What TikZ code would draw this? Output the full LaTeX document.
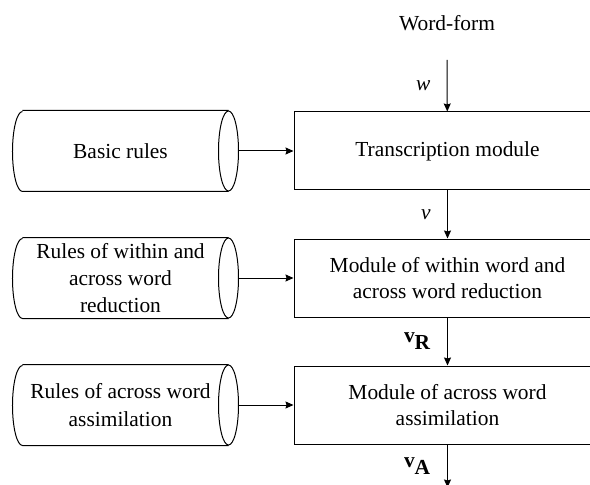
\documentclass[tikz,border=0pt]{standalone}
\usepackage{fontspec}
\setmainfont{Liberation Serif}
\usetikzlibrary{positioning,arrows.meta}

\begin{document}
\begin{tikzpicture}[x=1bp, y=-1bp, node distance={48bp}, line width=1bp,
    font=\fontsize{21.5}{26}\selectfont,
    module/.style = {draw, rectangle, minimum width=307bp, minimum height=78bp, align=center, inner sep=0pt},
    rules/.style = {rectangle, minimum width=215bp, minimum height=80bp, align=center, inner sep=0pt,
        font=\fontsize{21.5}{27.5}\selectfont},
    flow/.style = {-{Stealth[length=8bp,width=7bp,inset=1bp]}},
    sig/.style = {midway, left=13bp}]
    \useasboundingbox (0,0) rectangle (590,485);
    \node (form) at (447,23) {Word-form};
    \coordinate (in) at (447,60);
    \node[module] (trans) at (447.5,151) {Transcription module};
    \node[module] (reduc) [below=of trans] {Module of within word and\\across word reduction};
    \node[module] (assim) [below=of reduc] {Module of across word\\assimilation};
    \coordinate[below=43bp of assim] (out);
    \node[rules] (basic) [left=65bp of trans] {Basic rules};
    \node[rules] (within) [left=65bp of reduc] {Rules of within and\\across word\\reduction};
    \node[rules] (across) [left=65bp of assim] {Rules of across word\\assimilation};
    % drum outlines round the rule nodes
    \foreach \r in {basic,within,across} {
        \draw ([xshift=10bp]\r.north west) -- (\r.north east)
              (\r.south east) -- ([xshift=10bp]\r.south west)
              arc[start angle=270, end angle=90, x radius=10bp, y radius=40bp];
        \draw (\r.east) ellipse [x radius=10bp, y radius=40bp];
        \draw[flow] ([xshift=10bp]\r.east) -- (\r -| trans.west);
    }
    \draw[flow] (in) -- node[sig] {\textit{w}} (trans);
    \draw[flow] (trans) -- node[sig] {\textit{v}} (reduc);
    \draw[flow] (reduc) -- node[sig] {$\textbf{v}_{\textbf{R}}$} (assim);
    \draw[flow] (assim) -- node[sig] {$\textbf{v}_{\textbf{A}}$} (out);
\end{tikzpicture}
\end{document}
